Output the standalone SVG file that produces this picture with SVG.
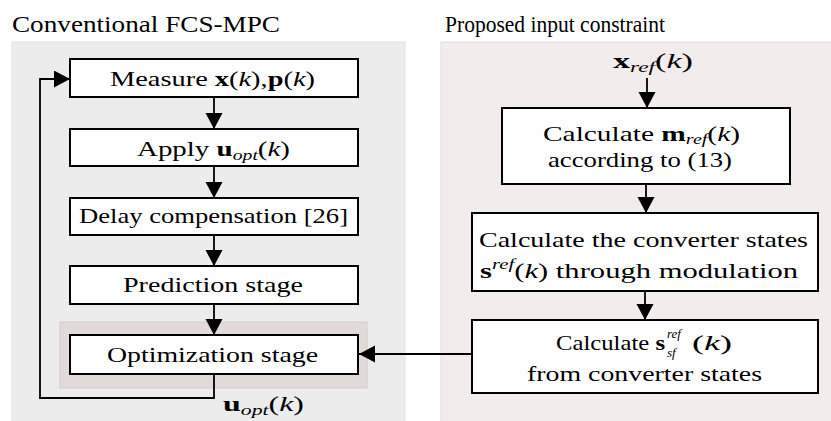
<svg xmlns="http://www.w3.org/2000/svg" width="831" height="421" viewBox="0 0 831 421">
<defs>
<style>
text{font-family:"Liberation Serif","Times New Roman",serif;font-size:22px;fill:#000}
.t{font-size:23px}
.b{font-weight:bold}
.i{font-style:italic}
.s{font-size:15px;font-style:italic}
.ss{font-size:13px;font-style:italic}
.box{fill:#fff;stroke:#000;stroke-width:2}
.ln{fill:none;stroke:#000;stroke-width:1.8}
</style>
<marker id="ah" markerUnits="userSpaceOnUse" markerWidth="17" markerHeight="18" refX="16" refY="8.5" orient="auto">
<path d="M0,0 L16,8.5 L0,17 Z" fill="#000"/>
</marker>
</defs>
<g id="panels">
<rect x="12" y="42" width="393" height="380" fill="#ececec" stroke="#e2e2e2" stroke-width="1"/>
<rect x="441" y="42" width="391" height="380" fill="#f2ecec" stroke="#ead9d9" stroke-width="1"/>
<rect x="60" y="322" width="307" height="66" fill="#e2d9d9" stroke="#dac8c8" stroke-width="1"/>
<text class="t" x="12" y="32" textLength="268" lengthAdjust="spacingAndGlyphs">Conventional FCS-MPC</text>
<text class="t" x="445" y="32" textLength="220" lengthAdjust="spacingAndGlyphs">Proposed input constraint</text>
</g>
<g id="connectors">
<line class="ln" x1="214" y1="97" x2="214" y2="129" marker-end="url(#ah)"/>
<line class="ln" x1="214" y1="166" x2="214" y2="198" marker-end="url(#ah)"/>
<line class="ln" x1="214" y1="235" x2="214" y2="266" marker-end="url(#ah)"/>
<line class="ln" x1="214" y1="304" x2="214" y2="335" marker-end="url(#ah)"/>
<path class="ln" d="M214,374 V398 H40 V79 H70" marker-end="url(#ah)"/>
<line class="ln" x1="647" y1="78" x2="647" y2="108" marker-end="url(#ah)"/>
<line class="ln" x1="646" y1="184" x2="646" y2="213" marker-end="url(#ah)"/>
<line class="ln" x1="645" y1="291" x2="645" y2="320" marker-end="url(#ah)"/>
<line class="ln" x1="472" y1="354" x2="359" y2="354" marker-end="url(#ah)"/>
<text x="223" y="411" textLength="81" lengthAdjust="spacingAndGlyphs"><tspan class="b">u</tspan><tspan class="s" dy="4">opt</tspan><tspan dy="-4">(</tspan><tspan class="i">k</tspan>)</text>
<text x="613" y="68" textLength="80" lengthAdjust="spacingAndGlyphs"><tspan class="b">x</tspan><tspan class="s" dy="4">ref</tspan><tspan dy="-4">(</tspan><tspan class="i">k</tspan>)</text>
</g>
<g id="measure">
<rect class="box" x="70" y="59" width="288" height="38"/>
<text x="110" y="86" textLength="205" lengthAdjust="spacingAndGlyphs">Measure <tspan class="b">x</tspan>(<tspan class="i">k</tspan>),<tspan class="b">p</tspan>(<tspan class="i">k</tspan>)</text>
</g>
<g id="apply">
<rect class="box" x="70" y="129" width="288" height="37"/>
<text x="137" y="156" textLength="153" lengthAdjust="spacingAndGlyphs">Apply <tspan class="b">u</tspan><tspan class="s" dy="4">opt</tspan><tspan dy="-4">(</tspan><tspan class="i">k</tspan>)</text>
</g>
<g id="delay">
<rect class="box" x="70" y="198" width="288" height="37"/>
<text x="79" y="223" textLength="269" lengthAdjust="spacingAndGlyphs">Delay compensation [26]</text>
</g>
<g id="prediction">
<rect class="box" x="70" y="266" width="288" height="38"/>
<text x="123" y="292" textLength="180" lengthAdjust="spacingAndGlyphs">Prediction stage</text>
</g>
<g id="optimization">
<rect class="box" x="70" y="335" width="288" height="39"/>
<text x="107" y="362" textLength="211" lengthAdjust="spacingAndGlyphs">Optimization stage</text>
</g>
<g id="calc-m">
<rect class="box" x="502" y="108" width="288" height="76"/>
<text x="543" y="141" textLength="197" lengthAdjust="spacingAndGlyphs">Calculate <tspan class="b">m</tspan><tspan class="s" dy="3">ref</tspan><tspan dy="-3">(</tspan><tspan class="i">k</tspan>)</text>
<text x="548" y="167" textLength="184" lengthAdjust="spacingAndGlyphs">according to (13)</text>
</g>
<g id="calc-states">
<rect class="box" x="472" y="213" width="346" height="78"/>
<text x="479" y="247" textLength="329" lengthAdjust="spacingAndGlyphs">Calculate the converter states</text>
<text x="480" y="278" textLength="318" lengthAdjust="spacingAndGlyphs"><tspan class="b">s</tspan><tspan class="s" dy="-9">ref</tspan><tspan dy="9">(</tspan><tspan class="i">k</tspan>) through modulation</text>
</g>
<g id="calc-ssf">
<rect class="box" x="472" y="320" width="346" height="73"/>
<text x="556" y="350" textLength="109" lengthAdjust="spacingAndGlyphs">Calculate <tspan class="b">s</tspan></text>
<text class="ss" x="667" y="338">ref</text>
<text class="ss" x="667" y="357">sf</text>
<text x="692" y="350" textLength="40" lengthAdjust="spacingAndGlyphs">(<tspan class="i">k</tspan>)</text>
<text x="527" y="381" textLength="235" lengthAdjust="spacingAndGlyphs">from converter states</text>
</g>
</svg>
